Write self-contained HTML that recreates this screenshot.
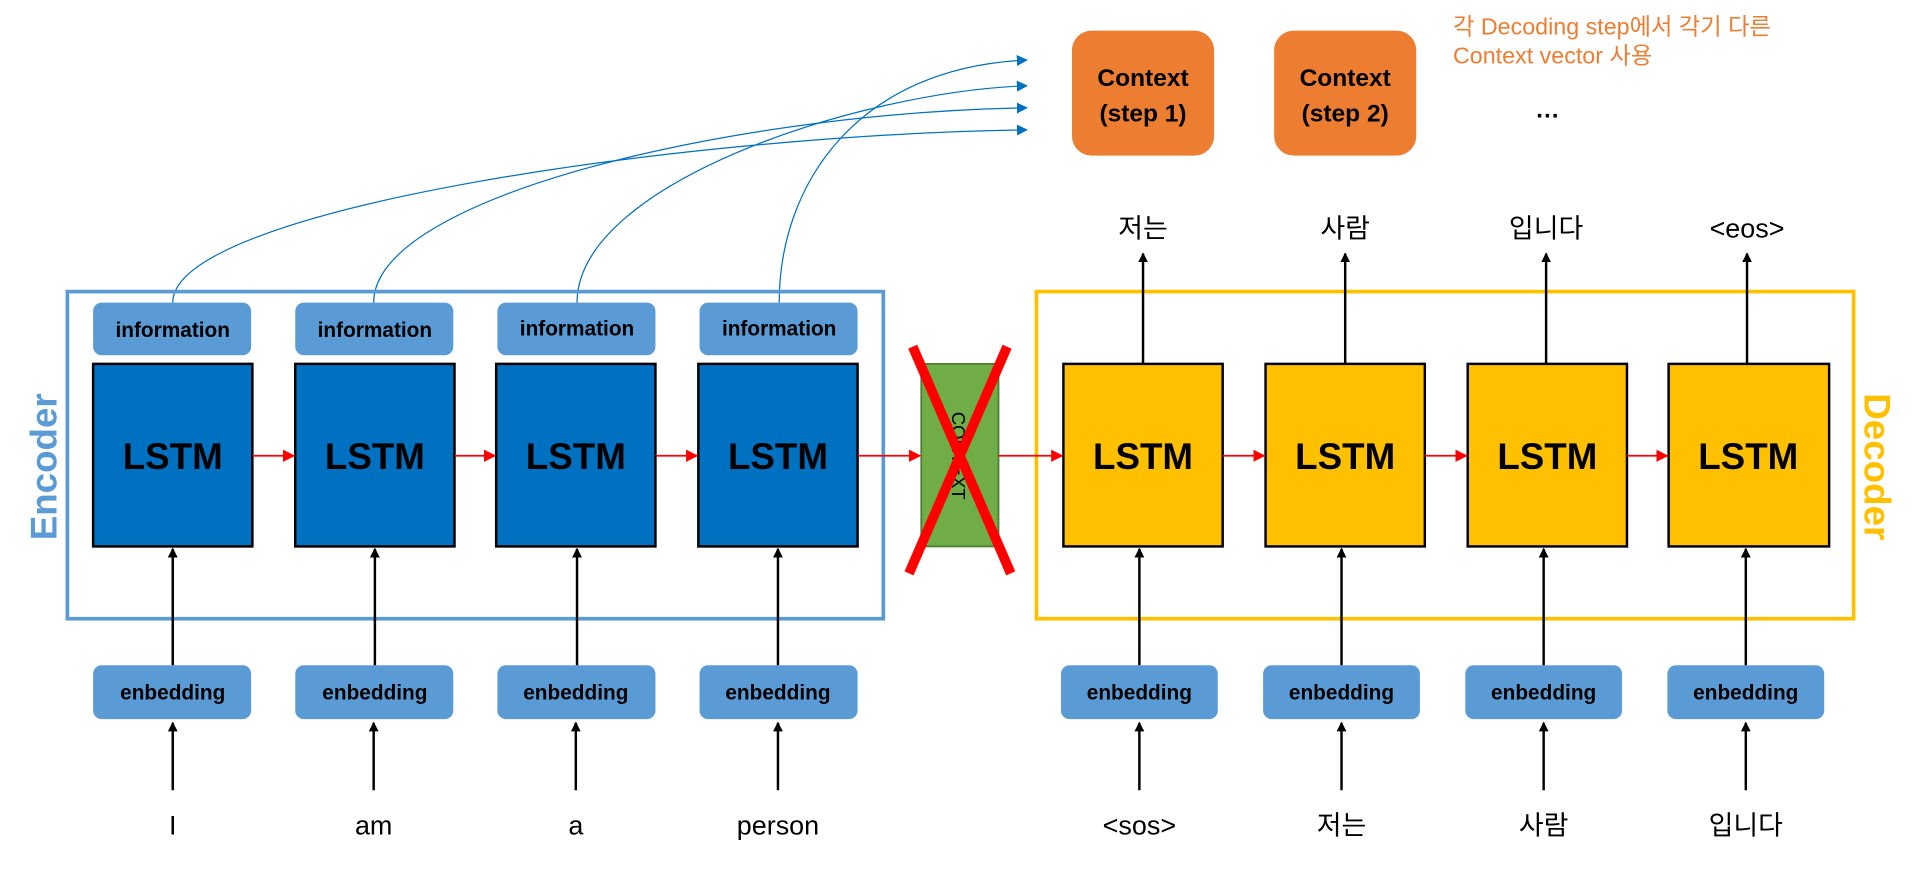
<!DOCTYPE html>
<html><head><meta charset="utf-8"><style>
html,body{margin:0;padding:0;background:#fff;}
svg{display:block;}
text{font-family:"Liberation Sans","Noto Sans CJK KR",sans-serif;}
</style></head><body>
<svg width="1921" height="876" viewBox="0 0 1568 715" preserveAspectRatio="none" xmlns="http://www.w3.org/2000/svg">
<defs>
<marker id="ab" markerWidth="8" markerHeight="8" refX="7" refY="4" orient="auto" markerUnits="userSpaceOnUse"><path d="M0,0 L8,4 L0,8 z" fill="#000"/></marker>
<marker id="ar" markerWidth="10" markerHeight="10" refX="9" refY="5" orient="auto" markerUnits="userSpaceOnUse"><path d="M0,0 L10,5 L0,10 z" fill="#f00"/></marker>
<marker id="au" markerWidth="9" markerHeight="9" refX="8" refY="4.5" orient="auto" markerUnits="userSpaceOnUse"><path d="M0,0 L9,4.5 L0,9 z" fill="#0070c0"/></marker>
</defs>
<g fill="none" stroke="#0070c0" stroke-width="1" marker-end="url(#au)">
<path d="M141,247 C141,170 560,110 838,106"/>
<path d="M305,247 C305,160 600,92 838,88"/>
<path d="M471,247 C471,150 700,75 838,70"/>
<path d="M636,247 C636,150 700,55 838,49"/>
</g>
<rect x="55" y="238" width="666" height="267" fill="none" stroke="#5b9bd5" stroke-width="3"/>
<rect x="846" y="238" width="667" height="267" fill="none" stroke="#ffc000" stroke-width="3"/>
<text transform="translate(46,381) rotate(-90)" text-anchor="middle" font-size="30" font-weight="bold" fill="#5b9bd5">Encoder</text>
<text transform="translate(1522,381) rotate(90)" text-anchor="middle" font-size="30" font-weight="bold" fill="#ffc000">Decoder</text>
<g fill="#5b9bd5">
<rect x="76" y="247" width="129" height="43" rx="7"/>
<rect x="241" y="247" width="129" height="43" rx="7"/>
<rect x="406" y="247" width="129" height="43" rx="7"/>
<rect x="571" y="247" width="129" height="43" rx="7"/>
</g>
<g font-size="17" font-weight="bold" text-anchor="middle" fill="#000">
<text x="141" y="275">information</text><text x="306" y="275">information</text><text x="471" y="274">information</text><text x="636" y="274">information</text>
</g>
<g stroke="#000" stroke-width="2">
<rect x="76" y="297" width="130" height="149" fill="#0070c0"/>
<rect x="241" y="297" width="130" height="149" fill="#0070c0"/>
<rect x="405" y="297" width="130" height="149" fill="#0070c0"/>
<rect x="570" y="297" width="130" height="149" fill="#0070c0"/>
<rect x="868" y="297" width="130" height="149" fill="#ffc000"/>
<rect x="1033" y="297" width="130" height="149" fill="#ffc000"/>
<rect x="1198" y="297" width="130" height="149" fill="#ffc000"/>
<rect x="1362" y="297" width="131" height="149" fill="#ffc000"/>
</g>
<g font-size="30" font-weight="bold" text-anchor="middle" fill="#000">
<text x="141" y="383">LSTM</text><text x="306" y="383">LSTM</text><text x="470" y="383">LSTM</text><text x="635" y="383">LSTM</text>
<text x="933" y="383">LSTM</text><text x="1098" y="383">LSTM</text><text x="1263" y="383">LSTM</text><text x="1427" y="383">LSTM</text>
</g>
<rect x="752" y="297" width="63" height="149" fill="#70ad47" stroke="#507e32" stroke-width="1.5"/>
<text transform="translate(777,372) rotate(90)" text-anchor="middle" font-size="15" fill="#000">CONTEXT</text>
<g stroke="#f00" stroke-width="8"><line x1="745" y1="283" x2="825" y2="468"/><line x1="822" y1="283" x2="742" y2="468"/></g>
<g stroke="#f00" stroke-width="1.5" marker-end="url(#ar)">
<line x1="206" y1="372" x2="240" y2="372"/><line x1="371" y1="372" x2="404" y2="372"/><line x1="535" y1="372" x2="569" y2="372"/>
<line x1="700" y1="372" x2="751" y2="372"/><line x1="815" y1="372" x2="867" y2="372"/>
<line x1="998" y1="372" x2="1032" y2="372"/><line x1="1163" y1="372" x2="1197" y2="372"/><line x1="1328" y1="372" x2="1361" y2="372"/>
</g>
<g fill="#5b9bd5">
<rect x="76" y="543" width="129" height="44" rx="7"/><rect x="241" y="543" width="129" height="44" rx="7"/>
<rect x="406" y="543" width="129" height="44" rx="7"/><rect x="571" y="543" width="129" height="44" rx="7"/>
<rect x="866" y="543" width="128" height="44" rx="7"/><rect x="1031" y="543" width="128" height="44" rx="7"/>
<rect x="1196" y="543" width="128" height="44" rx="7"/><rect x="1361" y="543" width="128" height="44" rx="7"/>
</g>
<g font-size="17" font-weight="bold" text-anchor="middle" fill="#000">
<text x="141" y="571">enbedding</text><text x="306" y="571">enbedding</text><text x="470" y="571">enbedding</text><text x="635" y="571">enbedding</text>
<text x="930" y="571">enbedding</text><text x="1095" y="571">enbedding</text><text x="1260" y="571">enbedding</text><text x="1425" y="571">enbedding</text>
</g>
<g stroke="#000" stroke-width="2" marker-end="url(#ab)">
<line x1="141" y1="645" x2="141" y2="590"/><line x1="305" y1="645" x2="305" y2="590"/><line x1="470" y1="645" x2="470" y2="590"/><line x1="635" y1="645" x2="635" y2="590"/>
<line x1="930" y1="645" x2="930" y2="590"/><line x1="1095" y1="645" x2="1095" y2="590"/><line x1="1260" y1="645" x2="1260" y2="590"/><line x1="1425" y1="645" x2="1425" y2="590"/>
<line x1="141" y1="543" x2="141" y2="448"/><line x1="306" y1="543" x2="306" y2="448"/><line x1="471" y1="543" x2="471" y2="448"/><line x1="635" y1="543" x2="635" y2="448"/>
<line x1="930" y1="543" x2="930" y2="448"/><line x1="1095" y1="543" x2="1095" y2="448"/><line x1="1260" y1="543" x2="1260" y2="448"/><line x1="1425" y1="543" x2="1425" y2="448"/>
<line x1="933" y1="297" x2="933" y2="207"/><line x1="1098" y1="297" x2="1098" y2="207"/><line x1="1262" y1="297" x2="1262" y2="207"/><line x1="1426" y1="297" x2="1426" y2="207"/>
</g>
<g font-size="22" text-anchor="middle" fill="#000">
<text x="141" y="681">I</text><text x="305" y="681">am</text><text x="470" y="681">a</text><text x="635" y="681">person</text>
<text x="930" y="681">&lt;sos&gt;</text><text x="1095" y="681">저는</text><text x="1260" y="681">사람</text><text x="1425" y="681">입니다</text>
<text x="933" y="194">저는</text><text x="1098" y="194">사람</text><text x="1262" y="194">입니다</text><text x="1426" y="194">&lt;eos&gt;</text>
</g>
<rect x="875" y="25" width="116" height="102" rx="16" fill="#ed7d31"/>
<rect x="1040" y="25" width="116" height="102" rx="16" fill="#ed7d31"/>
<g font-size="20" font-weight="bold" text-anchor="middle" fill="#000">
<text x="933" y="70">Context</text><text x="933" y="99">(step 1)</text>
<text x="1098" y="70">Context</text><text x="1098" y="99">(step 2)</text>
<text x="1263" y="96">…</text>
</g>
<g font-size="19" fill="#ed7d31">
<text x="1186" y="28">각 Decoding step에서 각기 다른</text>
<text x="1186" y="52">Context vector 사용</text>
</g>
</svg>
</body></html>
